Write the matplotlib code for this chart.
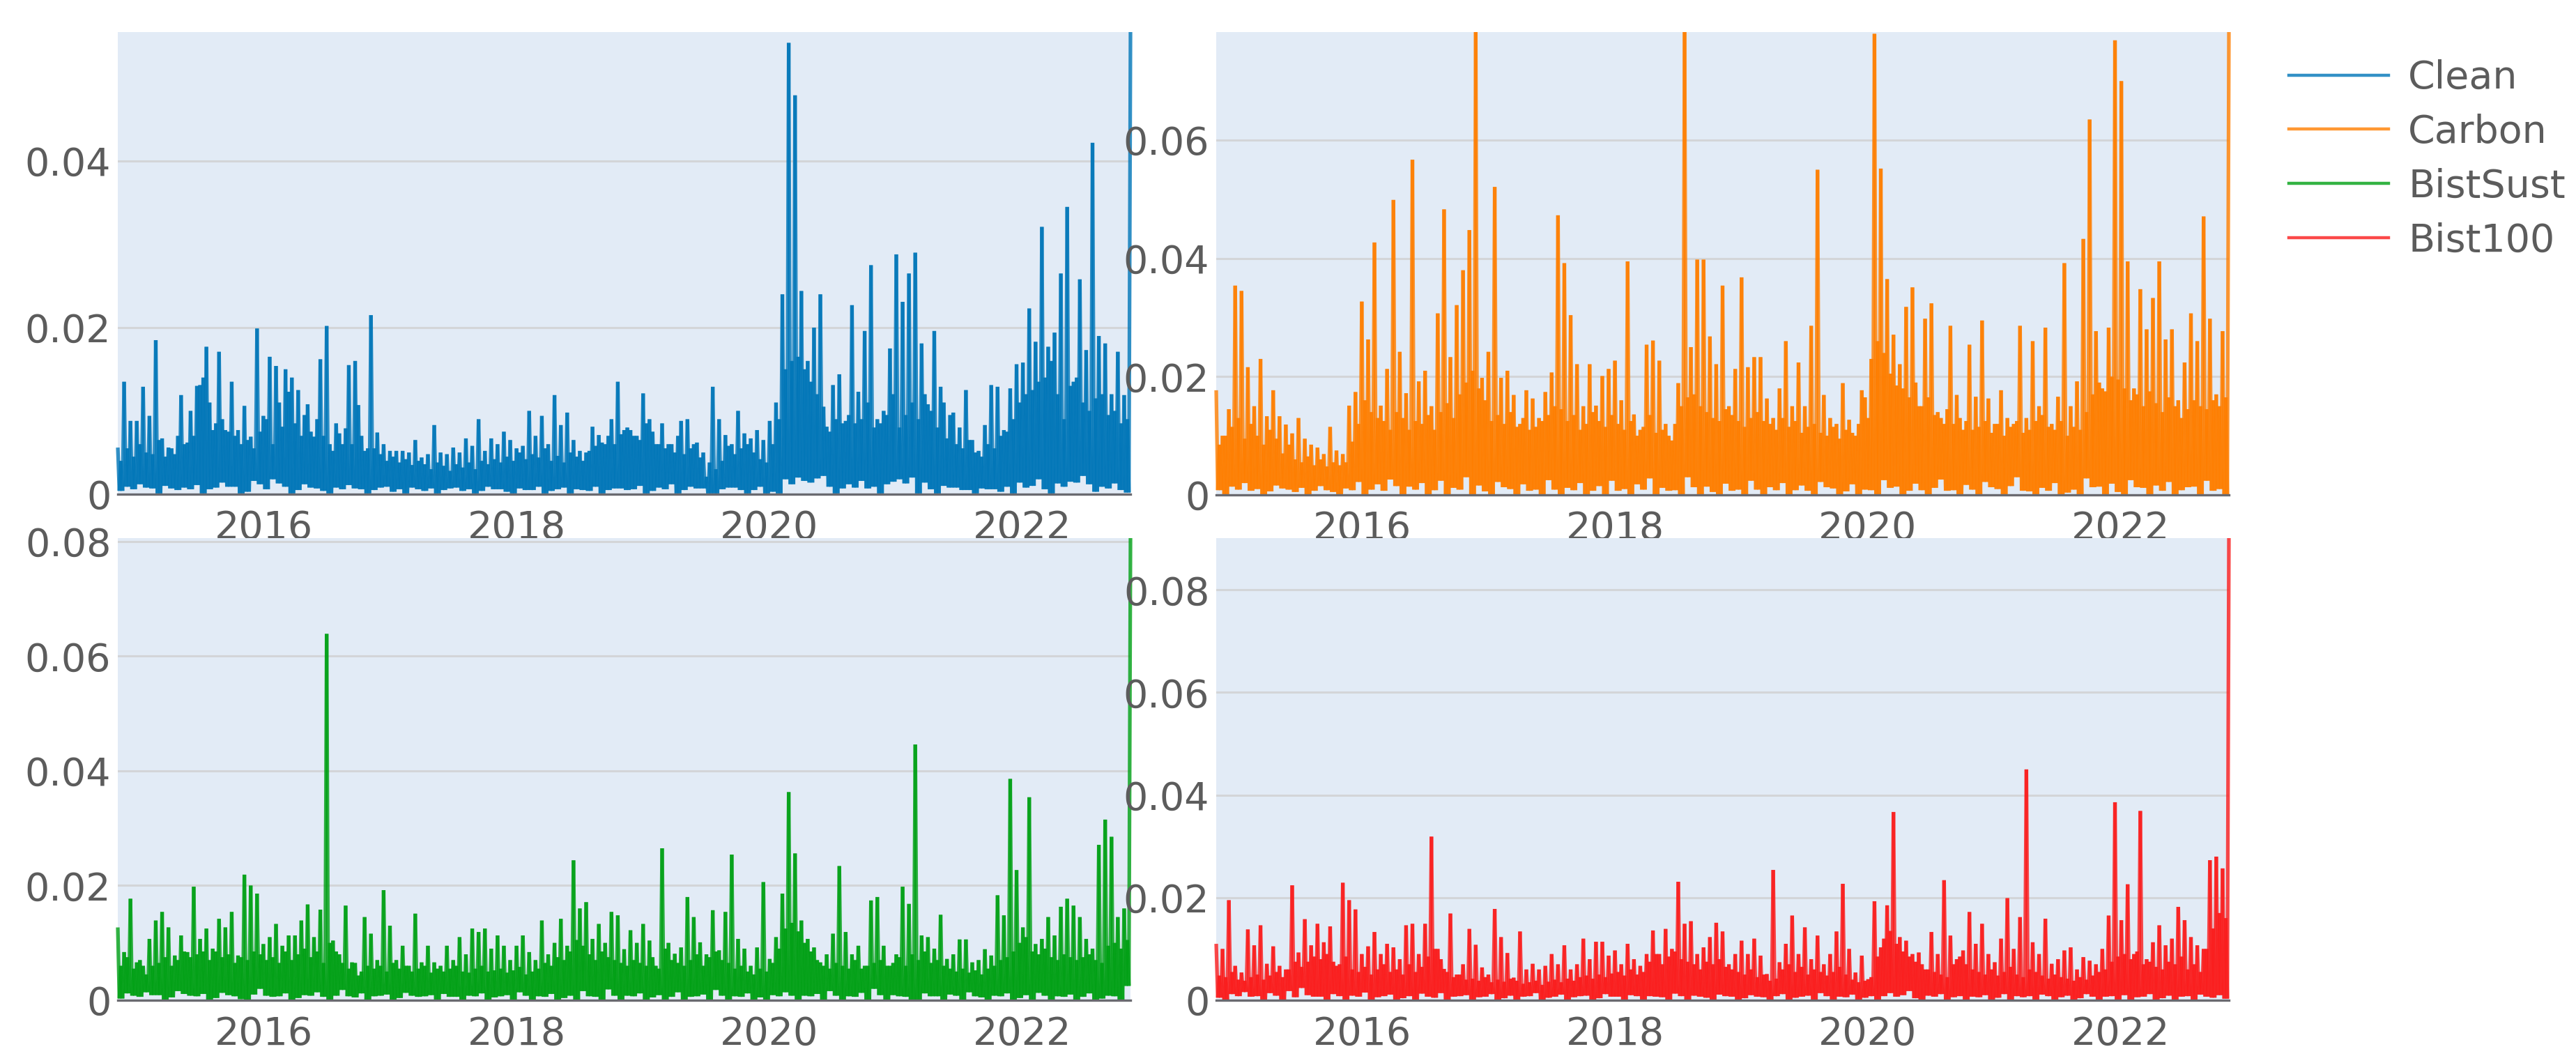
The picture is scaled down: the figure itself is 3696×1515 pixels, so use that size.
#!/usr/bin/env python3
from datetime import datetime

import matplotlib

matplotlib.use("Agg")
import matplotlib.dates as mdates
import matplotlib.pyplot as plt
import numpy as np
import pandas as pd
from matplotlib.collections import LineCollection
from matplotlib.lines import Line2D

# all series in units of 1e-4, one row per year
# hi = spike tops, mid = top of the dense part, lo = dips towards the baseline
clean_hi = [
    56, 135, 88, 88, 129, 94, 185, 67, 56, 48, 119, 62, 70, 131, 177, 77, 171, 77, 135, 77,
    106, 69, 199, 94, 165, 154, 81, 123, 85, 70, 108, 69, 162, 202, 52, 73, 79, 60, 107, 52,
    215, 74, 60, 52, 52, 52, 50, 65, 44, 48, 83, 50, 48, 56, 50, 67, 58, 90, 52, 67,
    60, 75, 65, 55, 58, 100, 70, 94, 60, 119, 83, 98, 65, 52, 50, 81, 71, 60, 90, 135,
    77, 77, 70, 121, 90, 60, 85, 60, 50, 88, 90, 60, 44, 21, 129, 90, 71, 60, 100, 73,
    67, 77, 65, 88, 110, 240, 542, 479, 244, 160, 200, 240, 81, 131, 144, 88, 227, 123, 196, 275,
    90, 100, 175, 288, 231, 265, 290, 181, 108, 196, 129, 67, 98, 80, 125, 65, 52, 83, 131, 129,
    77, 127, 156, 158, 223, 183, 321, 177, 194, 265, 345, 135, 258, 173, 422, 190, 181, 120, 171, 119,
    555,
]
clean_mid = [
    40, 55, 45, 60, 50, 48, 65, 45, 55, 70, 60, 100, 130, 140, 110, 85, 90, 75, 70, 60,
    65, 55, 75, 90, 60, 110, 150, 140, 125, 95, 75, 90, 70, 60, 85, 60, 155, 160, 70, 55,
    55, 48, 40, 45, 38, 42, 35, 40, 36, 30, 38, 34, 28, 36, 32, 38, 30, 40, 36, 42,
    38, 45, 40, 50, 42, 48, 44, 55, 40, 46, 38, 50, 45, 40, 52, 58, 62, 70, 60, 72,
    80, 70, 65, 85, 75, 60, 55, 60, 70, 48, 55, 62, 50, 38, 30, 40, 58, 48, 55, 60,
    50, 42, 38, 60, 90, 150, 160, 165, 150, 135, 120, 105, 75, 90, 85, 95, 85, 90, 110, 80,
    85, 95, 120, 80, 95, 110, 90, 120, 100, 80, 110, 95, 60, 55, 65, 50, 45, 60, 55, 70,
    75, 90, 110, 120, 125, 135, 140, 160, 120, 90, 130, 140, 110, 100, 115, 120, 95, 100, 85, 90,
]
clean_lo = [
    4, 9, 6, 12, 8, 7, 1, 10, 7, 5, 8, 6, 11, 1, 6, 8, 14, 9, 9, 1,
    3, 16, 12, 6, 18, 13, 9, 1, 5, 12, 8, 7, 4, 1, 8, 6, 11, 7, 6, 1,
    5, 8, 9, 3, 6, 1, 8, 6, 4, 7, 1, 5, 7, 8, 4, 6, 1, 4, 9, 6,
    6, 3, 1, 7, 5, 5, 9, 1, 4, 6, 8, 1, 6, 5, 4, 9, 1, 5, 7, 7,
    5, 6, 10, 1, 4, 8, 6, 12, 1, 5, 9, 7, 7, 1, 1, 6, 8, 8, 5, 1,
    5, 9, 1, 3, 1, 18, 12, 20, 16, 14, 19, 22, 9, 1, 7, 12, 8, 16, 7, 9,
    1, 12, 15, 18, 13, 20, 1, 14, 6, 1, 10, 8, 8, 5, 5, 1, 7, 6, 6, 3,
    9, 1, 14, 8, 10, 18, 6, 1, 13, 9, 15, 14, 22, 12, 3, 9, 7, 13, 5, 2,
]
carbon_hi = [
    177, 100, 145, 354, 345, 216, 150, 230, 133, 177, 133, 119, 104, 130, 95, 85, 80, 69, 115, 75,
    69, 151, 174, 327, 263, 427, 151, 213, 499, 242, 172, 567, 192, 210, 150, 307, 483, 233, 321, 380,
    448, 783, 198, 242, 521, 198, 210, 169, 120, 177, 163, 130, 174, 207, 473, 392, 304, 221, 150, 221,
    151, 201, 213, 227, 160, 395, 136, 110, 254, 261, 227, 120, 92, 189, 783, 250, 398, 398, 268, 221,
    354, 150, 213, 368, 216, 233, 233, 163, 130, 180, 260, 150, 224, 150, 286, 550, 169, 130, 120, 189,
    127, 100, 177, 130, 780, 552, 365, 271, 221, 318, 351, 150, 298, 324, 140, 120, 286, 169, 110, 254,
    166, 295, 163, 120, 177, 130, 120, 286, 130, 260, 150, 283, 120, 166, 392, 150, 192, 433, 635, 277,
    180, 283, 769, 700, 395, 180, 348, 280, 333, 395, 263, 280, 160, 224, 307, 260, 471, 298, 170, 277,
    783,
]
carbon_mid = [
    85, 100, 115, 130, 95, 120, 100, 85, 110, 95, 70, 85, 60, 55, 65, 50, 60, 48, 55, 50,
    55, 90, 120, 160, 140, 130, 125, 110, 140, 130, 110, 125, 120, 135, 110, 140, 155, 130, 170, 190,
    210, 180, 160, 125, 135, 120, 140, 115, 130, 110, 115, 125, 135, 150, 145, 125, 135, 110, 120, 140,
    125, 115, 135, 120, 110, 125, 100, 115, 135, 105, 110, 100, 120, 150, 165, 170, 150, 140, 130, 125,
    145, 135, 125, 115, 130, 140, 125, 120, 110, 130, 115, 125, 105, 115, 120, 105, 100, 115, 95, 110,
    105, 120, 165, 230, 260, 240, 205, 185, 180, 165, 190, 150, 165, 135, 130, 145, 120, 130, 125, 110,
    115, 125, 105, 120, 100, 115, 125, 105, 110, 125, 135, 115, 110, 125, 100, 115, 110, 140, 170, 190,
    175, 200, 195, 180, 160, 170, 150, 175, 155, 140, 165, 150, 130, 145, 160, 150, 145, 160, 150, 165,
]
carbon_lo = [
    8, 1, 14, 9, 20, 7, 10, 1, 6, 16, 11, 9, 5, 12, 1, 7, 15, 8, 5, 1,
    11, 8, 22, 1, 9, 18, 7, 26, 15, 1, 14, 9, 20, 1, 8, 24, 1, 12, 9, 30,
    1, 16, 6, 1, 22, 13, 10, 1, 18, 7, 9, 1, 25, 9, 1, 12, 8, 20, 1, 7,
    15, 1, 24, 7, 10, 1, 18, 9, 28, 1, 12, 7, 8, 1, 30, 13, 1, 14, 5, 1,
    19, 7, 9, 1, 24, 9, 1, 13, 8, 20, 1, 8, 16, 7, 1, 22, 13, 11, 1, 6,
    18, 1, 9, 8, 1, 25, 12, 14, 1, 7, 19, 8, 1, 12, 26, 7, 8, 1, 17, 9,
    1, 22, 13, 10, 1, 15, 30, 7, 6, 1, 12, 7, 20, 1, 4, 9, 1, 28, 13, 14,
    1, 19, 5, 1, 25, 13, 12, 1, 16, 7, 22, 1, 8, 13, 14, 1, 24, 7, 10, 1,
]
bistsust_hi = [
    127, 84, 177, 66, 60, 107, 139, 154, 127, 78, 113, 84, 198, 107, 125, 90, 142, 127, 154, 78,
    219, 200, 186, 98, 110, 133, 95, 113, 113, 139, 167, 110, 158, 639, 104, 80, 165, 66, 43, 145,
    116, 70, 192, 130, 70, 95, 60, 151, 66, 95, 66, 60, 95, 70, 110, 80, 125, 119, 125, 90,
    113, 95, 70, 95, 113, 84, 70, 139, 80, 100, 142, 95, 244, 160, 171, 107, 133, 100, 154, 148,
    89, 122, 100, 133, 104, 60, 265, 100, 81, 92, 180, 145, 101, 80, 157, 87, 154, 254, 107, 90,
    60, 92, 206, 72, 110, 186, 363, 256, 139, 107, 92, 66, 80, 116, 234, 119, 80, 95, 60, 174,
    180, 95, 60, 80, 198, 168, 446, 113, 110, 90, 149, 72, 80, 106, 106, 66, 70, 89, 78, 183,
    148, 386, 227, 127, 354, 98, 107, 145, 113, 163, 177, 165, 145, 107, 90, 271, 315, 285, 145, 160,
    806,
]
bistsust_mid = [
    60, 75, 55, 70, 45, 60, 65, 75, 60, 70, 85, 75, 80, 85, 70, 85, 75, 80, 65, 75,
    70, 85, 80, 70, 75, 65, 85, 70, 80, 90, 75, 85, 65, 100, 85, 65, 55, 65, 50, 60,
    55, 60, 50, 65, 55, 60, 50, 55, 60, 48, 55, 50, 55, 60, 50, 48, 55, 60, 50, 52,
    55, 48, 52, 58, 45, 50, 55, 65, 60, 75, 70, 85, 105, 95, 80, 70, 85, 75, 70, 65,
    60, 70, 65, 60, 75, 55, 90, 70, 65, 60, 70, 80, 60, 75, 85, 70, 65, 55, 60, 50,
    45, 55, 50, 65, 90, 125, 135, 120, 100, 85, 70, 60, 55, 65, 60, 55, 70, 55, 60, 65,
    70, 60, 65, 75, 60, 80, 70, 85, 65, 70, 60, 55, 50, 55, 48, 52, 45, 55, 60, 70,
    75, 85, 100, 110, 85, 80, 90, 75, 70, 80, 75, 70, 75, 80, 70, 65, 95, 100, 90, 105,
]
bistsust_lo = [
    3, 12, 8, 6, 14, 9, 9, 1, 5, 16, 11, 8, 7, 11, 1, 4, 13, 9, 7, 2,
    1, 10, 20, 8, 6, 7, 12, 1, 4, 9, 8, 14, 6, 1, 8, 18, 7, 5, 12, 1,
    7, 8, 10, 1, 4, 13, 8, 6, 7, 9, 1, 11, 6, 6, 1, 8, 7, 12, 1, 5,
    7, 9, 1, 14, 8, 1, 7, 6, 11, 1, 4, 8, 1, 16, 7, 6, 1, 19, 8, 1,
    8, 7, 12, 1, 5, 9, 1, 6, 14, 1, 6, 7, 10, 1, 18, 8, 1, 7, 6, 12,
    1, 5, 1, 9, 7, 14, 8, 1, 8, 7, 11, 1, 16, 8, 1, 7, 6, 13, 1, 20,
    9, 1, 9, 7, 6, 1, 1, 12, 7, 7, 1, 10, 8, 1, 14, 7, 5, 1, 8, 7,
    12, 1, 4, 9, 1, 13, 8, 1, 7, 6, 10, 1, 6, 12, 1, 3, 8, 7, 1, 25,
]
bist100_hi = [
    110, 100, 195, 67, 54, 138, 107, 146, 71, 105, 67, 60, 224, 93, 158, 107, 149, 113, 144, 67,
    229, 195, 177, 90, 105, 133, 90, 110, 103, 80, 146, 149, 90, 149, 319, 100, 61, 169, 50, 70,
    139, 108, 64, 50, 178, 123, 92, 44, 134, 60, 71, 60, 67, 90, 70, 107, 60, 70, 120, 80,
    114, 114, 87, 97, 70, 110, 80, 67, 90, 136, 90, 139, 100, 231, 149, 154, 90, 103, 123, 151,
    134, 70, 90, 116, 90, 120, 87, 51, 254, 74, 110, 165, 90, 142, 80, 126, 70, 90, 134, 227,
    100, 54, 87, 41, 193, 103, 185, 367, 123, 116, 90, 93, 60, 133, 90, 234, 126, 80, 97, 172,
    110, 149, 90, 74, 120, 199, 100, 162, 450, 113, 90, 159, 71, 80, 97, 103, 60, 84, 77, 70,
    100, 165, 386, 156, 226, 90, 369, 80, 113, 146, 107, 120, 182, 156, 123, 107, 100, 273, 280, 257,
    901,
]
bist100_mid = [
    48, 45, 55, 40, 38, 45, 50, 40, 48, 55, 45, 60, 75, 65, 75, 85, 80, 90, 75, 70,
    85, 60, 55, 65, 50, 60, 70, 55, 60, 50, 70, 55, 65, 85, 100, 80, 55, 45, 50, 40,
    42, 38, 45, 35, 40, 36, 42, 38, 32, 35, 38, 30, 36, 40, 35, 42, 38, 45, 48, 42,
    50, 45, 52, 55, 48, 60, 50, 55, 75, 90, 70, 85, 95, 80, 75, 70, 60, 75, 70, 80,
    65, 60, 55, 50, 60, 45, 50, 38, 42, 60, 70, 55, 65, 50, 60, 55, 48, 55, 65, 50,
    40, 35, 38, 45, 85, 120, 135, 110, 95, 85, 75, 70, 60, 55, 50, 45, 70, 85, 70, 60,
    55, 50, 60, 48, 55, 65, 50, 45, 60, 55, 48, 42, 50, 45, 42, 38, 45, 40, 48, 55,
    60, 75, 85, 90, 80, 95, 70, 75, 65, 60, 75, 70, 85, 60, 70, 55, 100, 140, 170, 160,
]
bist100_lo = [
    5, 1, 12, 8, 16, 7, 8, 1, 14, 9, 1, 18, 6, 24, 10, 7, 7, 1, 12, 8,
    1, 9, 7, 15, 1, 6, 8, 11, 1, 4, 8, 1, 13, 7, 5, 14, 1, 7, 8, 10,
    1, 6, 7, 12, 1, 4, 9, 1, 7, 8, 14, 1, 5, 7, 11, 1, 6, 8, 9, 1,
    4, 12, 7, 7, 1, 10, 8, 1, 8, 7, 6, 1, 13, 8, 1, 9, 7, 5, 1, 11,
    8, 7, 1, 4, 10, 7, 6, 1, 8, 12, 1, 5, 7, 9, 1, 14, 8, 1, 7, 6,
    11, 1, 5, 8, 1, 8, 14, 7, 10, 18, 4, 1, 9, 7, 12, 1, 6, 8, 1, 7,
    6, 10, 1, 5, 12, 1, 8, 6, 8, 1, 11, 8, 1, 6, 9, 1, 4, 12, 7, 1,
    7, 8, 1, 10, 1, 6, 7, 12, 1, 4, 9, 1, 7, 8, 1, 11, 7, 5, 10, 3,
]

labels = ["Clean", "Carbon", "BistSust", "Bist100"]
colors = ["#0076b8", "#ff7e00", "#00a014", "#fb1c1c"]
year_ticks = [2016, 2018, 2020, 2022]
y_ticks = [
    [0, 0.02, 0.04],
    [0, 0.02, 0.04, 0.06],
    [0, 0.02, 0.04, 0.06, 0.08],
    [0, 0.02, 0.04, 0.06, 0.08],
]
y_tops = [0.0555, 0.0783, 0.0806, 0.0901]

FIG_W, FIG_H = 3696, 1515
BOXES = [(169, 46, 1622, 709), (1745, 46, 3198, 710), (169, 772, 1622, 1435), (1745, 772, 3198, 1435)]
TEXT_COLOR = "#5c5c5c"
FONT_SIZE = 40
START, END = "2014-11-05", "2022-11-10"


def zigzag(hi, mid, lo):
    series = []
    for h, m, l in zip(hi, mid, lo):
        series += [h, l, m, l]
    series.append(hi[-1])
    return np.array(series) * 1e-4


def draw_panel(fig, box, y, color, ticks, top):
    x0, y0, x1, y1 = box
    ax = fig.add_axes([x0 / FIG_W, 1 - y1 / FIG_H, (x1 - x0) / FIG_W, (y1 - y0) / FIG_H])
    ax.set_facecolor("#e2ebf6")

    x = mdates.date2num(pd.date_range(START, END, periods=len(y)))
    pts = np.column_stack([x, y])
    segs = np.stack([pts[:-1], pts[1:]], axis=1)
    # separate segments so overlaps build up the way a translucent line does
    lines = LineCollection(segs, colors=color, linewidths=3.8, alpha=0.8, capstyle="butt", zorder=3)
    lines.set_clip_on(False)
    ax.add_collection(lines)

    ax.set_xlim(x[0], x[-1])
    ax.set_ylim(0, top)
    ax.set_xticks([datetime(yr, 1, 1) for yr in year_ticks], [str(yr) for yr in year_ticks])
    ax.set_yticks(ticks, ["0" if t == 0 else f"{t:g}" for t in ticks])
    ax.tick_params(axis="both", length=0, labelsize=FONT_SIZE, labelcolor=TEXT_COLOR)
    ax.tick_params(axis="x", pad=16)
    ax.tick_params(axis="y", pad=7)
    ax.grid(axis="y", color="#d3d5d8", linewidth=2.2, zorder=1)
    ax.set_axisbelow(True)
    for spine in ax.spines.values():
        spine.set_visible(False)
    ax.axhline(0, color="#6a6a70", linewidth=2.4, zorder=4, clip_on=False)


def main():
    plt.rcParams["font.family"] = ["DejaVu Sans"]
    fig = plt.figure(figsize=(FIG_W / 100, FIG_H / 100), dpi=100, facecolor="white")

    series = [
        zigzag(clean_hi, clean_mid, clean_lo),
        zigzag(carbon_hi, carbon_mid, carbon_lo),
        zigzag(bistsust_hi, bistsust_mid, bistsust_lo),
        zigzag(bist100_hi, bist100_mid, bist100_lo),
    ]
    for i in range(4):
        draw_panel(fig, BOXES[i], series[i], colors[i], y_ticks[i], y_tops[i])

    handles = [Line2D([0], [0], color=c, linewidth=3.2, alpha=0.8) for c in colors]
    fig.legend(
        handles,
        labels,
        loc="upper left",
        bbox_to_anchor=(3284 / FIG_W, 1 - 85 / FIG_H),
        frameon=False,
        fontsize=FONT_SIZE,
        labelcolor=TEXT_COLOR,
        handlelength=2.58,
        handletextpad=0.5,
        labelspacing=0.43,
        borderpad=0,
        borderaxespad=0,
    )
    fig.savefig("out.png", dpi=100)
    plt.close(fig)


if __name__ == "__main__":
    main()
